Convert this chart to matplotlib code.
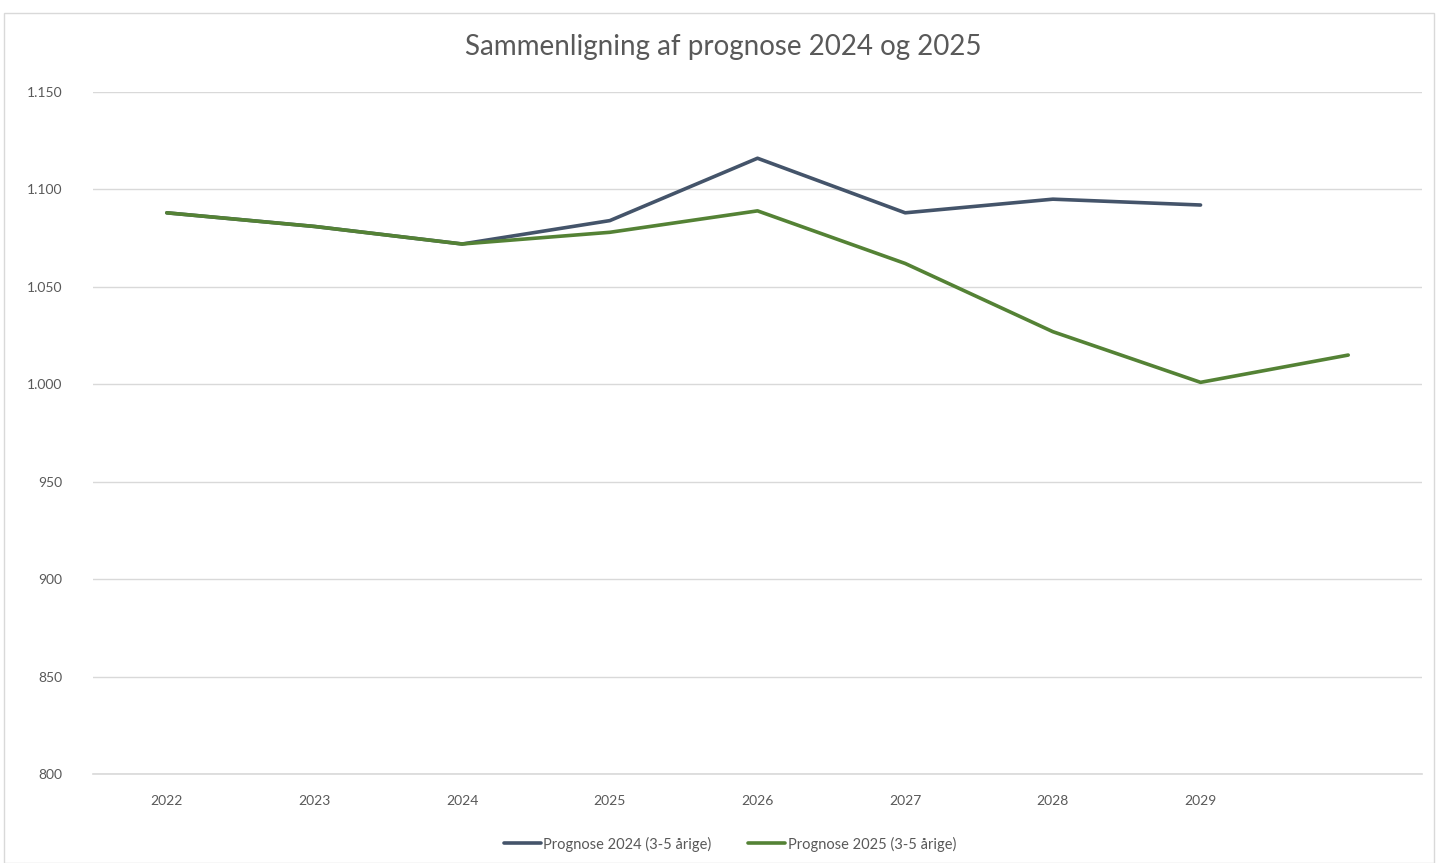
import matplotlib
matplotlib.use("Agg")
import matplotlib.pyplot as plt
from matplotlib.ticker import FuncFormatter
from matplotlib.patches import Rectangle

years = ["2022", "2023", "2024", "2025", "2026", "2027", "2028", "2029", ""]
prognose_2024 = [1088, 1081, 1072, 1084, 1116, 1088, 1095, 1092]
prognose_2025 = [1088, 1081, 1072, 1078, 1089, 1062, 1027, 1001, 1015]

col_2024 = "#44546A"
col_2025 = "#548235"

plt.rcParams["font.family"] = ["Lato", "DejaVu Sans"]

fig = plt.figure(figsize=(14.37, 8.63), dpi=100)
fig.patches.append(Rectangle((0.003, 0.0), 0.995, 0.985, transform=fig.transFigure,
                             fill=False, edgecolor="#D9D9D9", linewidth=1))
ax = fig.add_axes([0.0647, 0.1031, 0.9249, 0.7903])

x = range(len(years))
ax.plot(range(len(prognose_2024)), prognose_2024, color=col_2024, lw=2.6,
        label="Prognose 2024 (3-5 årige)", solid_capstyle="round")
ax.plot(range(len(prognose_2025)), prognose_2025, color=col_2025, lw=2.6,
        label="Prognose 2025 (3-5 årige)", solid_capstyle="round")

ax.set_xlim(-0.5, len(years) - 0.5)
ax.set_ylim(800, 1150)
ax.set_yticks(range(800, 1151, 50))
ax.yaxis.set_major_formatter(FuncFormatter(lambda v, p: f"{int(v):,}".replace(",", ".")))
ax.set_xticks(list(x))
ax.set_xticklabels(years)

ax.grid(axis="y", color="#D9D9D9", lw=1)
ax.axhline(800, color="#D9D9D9", lw=1.2, clip_on=False, zorder=0)
ax.set_axisbelow(True)
for s in ax.spines.values():
    s.set_visible(False)
ax.tick_params(axis="both", length=0, labelsize=10, labelcolor="#595959")
ax.tick_params(axis="x", pad=15)
ax.tick_params(axis="y", pad=22)

fig.text(0.503, 0.945, "Sammenligning af prognose 2024 og 2025", ha="center", va="center",
         fontsize=20, color="#595959")

fig.legend(loc="center", bbox_to_anchor=(0.508, 0.022), ncol=2, frameon=False,
           fontsize=10.5, labelcolor="#595959", handlelength=2.5, handletextpad=0.2,
           columnspacing=2.5)

fig.savefig("out.png", dpi=100)
